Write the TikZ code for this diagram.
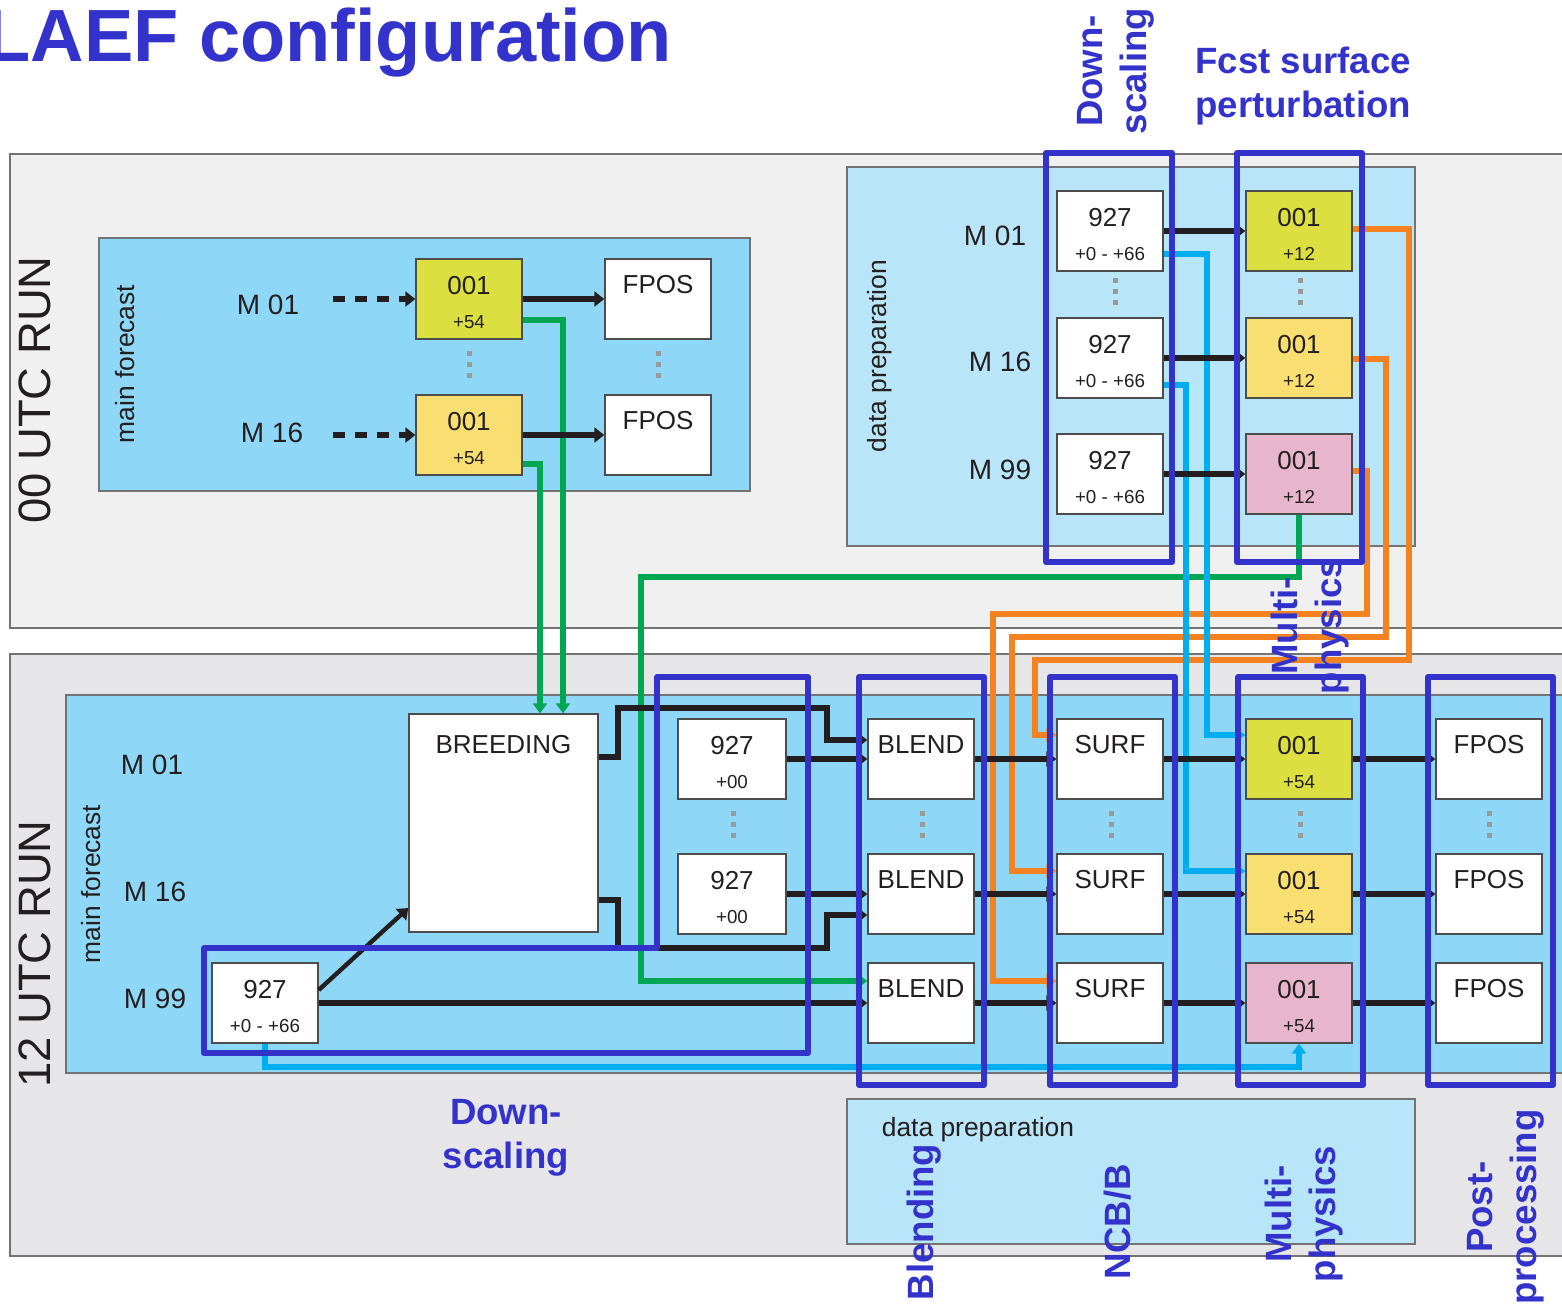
\documentclass[tikz,border=0pt]{standalone}
\usepackage{fontspec}
\setmainfont{Liberation Sans}
\usepackage{xcolor}
\usetikzlibrary{arrows.meta}
\definecolor{frameblue}{RGB}{51,51,204}
\definecolor{rungray}{RGB}{240,240,240}
\definecolor{rungraydark}{RGB}{230,230,232}
\definecolor{mfblue}{RGB}{142,215,246}
\definecolor{dpblue}{RGB}{185,229,248}
\definecolor{memyg}{RGB}{219,223,64}
\definecolor{memyel}{RGB}{249,222,114}
\definecolor{mempink}{RGB}{232,182,204}
\definecolor{lgreen}{RGB}{0,166,81}
\definecolor{lcyan}{RGB}{0,174,239}
\definecolor{lorange}{RGB}{245,130,32}
\definecolor{ink}{RGB}{35,31,32}
\definecolor{dotgray}{RGB}{153,153,153}
\newcommand{\leadtime}[1]{{\fontsize{9.4}{9.4}\selectfont #1}}

\begin{document}
\begin{tikzpicture}[
    x=0.5pt, y=-0.5pt,
    every node/.style = {text=ink},
      run/.style = {draw=black!55, line width=0.8pt},
      box/.style = {draw=black!70, line width=0.7pt, fill=white, minimum width=53pt, inner sep=0pt},
      twoline/.style = {box, text height=34.5pt, text depth=5.5pt, align=center, font=\fontsize{13}{17}\selectfont},
      topline/.style = {box, text height=17pt, text depth=23pt, font=\fontsize{13}{15}\selectfont},
      member/.style = {font=\fontsize{14}{16}\selectfont},
      side/.style = {font=\fontsize{13.2}{15}\selectfont, rotate=90},
      bigside/.style = {font=\fontsize{22.7}{25}\selectfont, rotate=90},
      bluelbl/.style = {text=frameblue, font=\fontsize{18.3}{22}\selectfont\bfseries, align=center, inner sep=0pt},
      flow/.style = {draw=ink, line width=2.8pt, -{Triangle[length=5pt,width=7.5pt]}},
      feed/.style = {line width=2.6pt, -{Triangle[length=5pt,width=7pt]}},
      more/.style = {draw=dotgray, line width=2.5pt, dash pattern=on 2.5pt off 3pt},
      group/.style = {draw=frameblue, line width=3pt, line join=round}
    ]
    \useasboundingbox (0,0) rectangle (1562,1303);

    % runs and their blocks
    \filldraw[run, fill=rungray] (10,154) rectangle (1580,628);
    \filldraw[run, fill=rungraydark] (10,654) rectangle (1580,1256);
    \filldraw[run, fill=mfblue] (99,238) rectangle (750,491);
    \filldraw[run, fill=dpblue] (847,167) rectangle (1415,546);
    \filldraw[run, fill=mfblue] (66,695) rectangle (1580,1073);
    \filldraw[run, fill=dpblue] (847,1099) rectangle (1415,1244);

    \node[bigside] (run00) at (35,390) {00 UTC RUN};
    \node[bigside] (run12) at (35,954) {12 UTC RUN};
    \node[side] (mf00) at (125,364) {main forecast};
    \node[side] (mf12) at (91,884) {main forecast};
    \node[side] (dp00) at (880,356) {data preparation};
    \node[font=\fontsize{13.2}{15}\selectfont] (dp12) at (978,1130) {data preparation};

    % 00 UTC main forecast
    \node[member] (um01) at (268,305) {M 01};
    \node[member] (um16) at (272,433) {M 16};
    \node[twoline, fill=memyg] (u01) at (469,299) {001\\\leadtime{+54}};
    \node[twoline, fill=memyel] (u16) at (469,435) {001\\\leadtime{+54}};
    \node[topline] (uf01) at (658,299) {FPOS};
    \node[topline] (uf16) at (658,435) {FPOS};
    \coordinate (us01) at (333,299);
    \coordinate (us16) at (333,435);

    % 00 UTC data preparation
    \node[member] (dm01) at (995,236) {M 01};
    \node[member] (dm16) at (1000,362) {M 16};
    \node[member] (dm99) at (1000,470) {M 99};
    \node[twoline] (d927a) at (1110,231) {927\\\leadtime{+0 - +66}};
    \node[twoline] (d927b) at (1110,358) {927\\\leadtime{+0 - +66}};
    \node[twoline] (d927c) at (1110,474) {927\\\leadtime{+0 - +66}};
    \node[twoline, fill=memyg] (d001a) at (1299,231) {001\\\leadtime{+12}};
    \node[twoline, fill=memyel] (d001b) at (1299,358) {001\\\leadtime{+12}};
    \node[twoline, fill=mempink] (d001c) at (1299,474) {001\\\leadtime{+12}};

    % 12 UTC main forecast
    \node[member] (lm01) at (152,765) {M 01};
    \node[member] (lm16) at (155,892) {M 16};
    \node[member] (lm99) at (155,999) {M 99};
    \node[twoline] (l927) at (265,1003) {927\\\leadtime{+0 - +66}};
    \node[box, minimum width=94.5pt, text height=19.5pt, text depth=89.5pt,
          font=\fontsize{13}{15}\selectfont] (breeding) at (503.5,823) {BREEDING};
    \node[twoline, minimum width=54pt] (l927a) at (732,759) {927\\\leadtime{+00}};
    \node[twoline, minimum width=54pt] (l927b) at (732,894) {927\\\leadtime{+00}};
    \node[topline] (blenda) at (921,759) {BLEND};
    \node[topline] (blendb) at (921,894) {BLEND};
    \node[topline] (blendc) at (921,1003) {BLEND};
    \node[topline] (surfa) at (1110,759) {SURF};
    \node[topline] (surfb) at (1110,894) {SURF};
    \node[topline] (surfc) at (1110,1003) {SURF};
    \node[twoline, fill=memyg] (l001a) at (1299,759) {001\\\leadtime{+54}};
    \node[twoline, fill=memyel] (l001b) at (1299,894) {001\\\leadtime{+54}};
    \node[twoline, fill=mempink] (l001c) at (1299,1003) {001\\\leadtime{+54}};
    \node[topline] (lfa) at (1489,759) {FPOS};
    \node[topline] (lfb) at (1489,894) {FPOS};
    \node[topline] (lfc) at (1489,1003) {FPOS};

    % coloured feeds
    \draw[feed, draw=lgreen] (u01.east |- 0,320) -| (breeding.north -| 563,0);
    \draw[feed, draw=lgreen] (u16.east |- 0,464) -| (breeding.north -| 540,0);
    \draw[feed, draw=lgreen] (d001c.south) -- (d001c.south |- 0,577) -| (641,981) -- (blendc.west |- 0,981);
    \draw[feed, draw=lorange] (d001a.east |- 0,229) -| (1409,660) -| (1035,735) -- (surfa.west |- 0,735);
    \draw[feed, draw=lorange] (d001b.east |- 0,359) -| (1386,637) -| (1012,871) -- (surfb.west |- 0,871);
    \draw[feed, draw=lorange] (d001c.east |- 0,471) -| (1367,614) -| (993,981) -- (surfc.west |- 0,981);
    \draw[feed, draw=lcyan] (d927a.east |- 0,254) -| (1207,735) -- (l001a.west |- 0,735);
    \draw[feed, draw=lcyan] (d927b.east |- 0,385) -| (1186,871) -- (l001b.west |- 0,871);
    \draw[feed, draw=lcyan] (l927.south) |- (l001c.south |- 0,1067) -- (l001c.south);

    % main flow
    \draw[flow, dash pattern=on 6pt off 5pt] (us01) -- (u01);
    \draw[flow, dash pattern=on 6pt off 5pt] (us16) -- (u16);
    \draw[flow] (u01) -- (uf01);
    \draw[flow] (u16) -- (uf16);
    \draw[flow] (d927a) -- (d001a);
    \draw[flow] (d927b) -- (d001b);
    \draw[flow] (d927c) -- (d001c);
    \draw[flow] (breeding.east |- 0,757) -- (618,757) -- (618,708) -- (827,708) -- (827,740) -- (blenda.west |- 0,740);
    \draw[flow] (breeding.east |- 0,900) -- (618,900) -- (618,948) -- (827,948) -- (827,915) -- (blendb.west |- 0,915);
    \draw[flow, line width=2.2pt] (l927.east |- 0,990) -- (breeding.west |- 0,908);
    \draw[flow] (l927a) -- (blenda);
    \draw[flow] (l927b) -- (blendb);
    \draw[flow] (l927) -- (blendc);
    \foreach \row in {a,b,c} {
        \draw[flow] (blend\row) -- (surf\row);
        \draw[flow] (surf\row) -- (l001\row);
        \draw[flow] (l001\row) -- (lf\row);
    }

    % members in between
    \foreach \x in {469,658} \draw[more] (\x,351) -- (\x,379);
    \foreach \x in {1115,1300} \draw[more] (\x,278) -- (\x,306);
    \foreach \x in {733,922,1111,1300,1489} \draw[more] (\x,811) -- (\x,839);

    % component frames
    \draw[group] (1046,153) rectangle (1172,562);
    \draw[group] (1237,153) rectangle (1362,562);
    \draw[group] (657,677) -- (808,677) -- (808,1053) -- (204,1053) -- (204,948) -- (657,948) -- cycle;
    \draw[group] (859,677) rectangle (984,1085);
    \draw[group] (1050,677) rectangle (1175,1085);
    \draw[group] (1238,677) rectangle (1363,1085);
    \draw[group] (1428,677) rectangle (1553,1085);

    % component names
    \node[anchor=base west, inner sep=0pt, text=frameblue,
          font=\fontsize{37}{40}\selectfont\bfseries] (title) at (-15,61) {LAEF configuration};
    \node[bluelbl, align=left, anchor=west] (fcst) at (1195,86) {Fcst surface\\perturbation};
    \node[bluelbl, rotate=90] (dstop) at (1116,71) {Down-\\scaling};
    \node[bluelbl, rotate=90] (mptop) at (1310,626) {Multi-\\physics};
    \node[bluelbl] (dsbot) at (506,1138) {Down-\\scaling};
    \node[bluelbl, rotate=90] (blendlbl) at (924,1222) {Blending};
    \node[bluelbl, rotate=90] (ncblbl) at (1118,1222) {NCB/B};
    \node[bluelbl, rotate=90] (mpbot) at (1304,1214) {Multi-\\physics};
    \node[bluelbl, rotate=90] (pplbl) at (1506,1207) {Post-\\processing};
\end{tikzpicture}
\end{document}
